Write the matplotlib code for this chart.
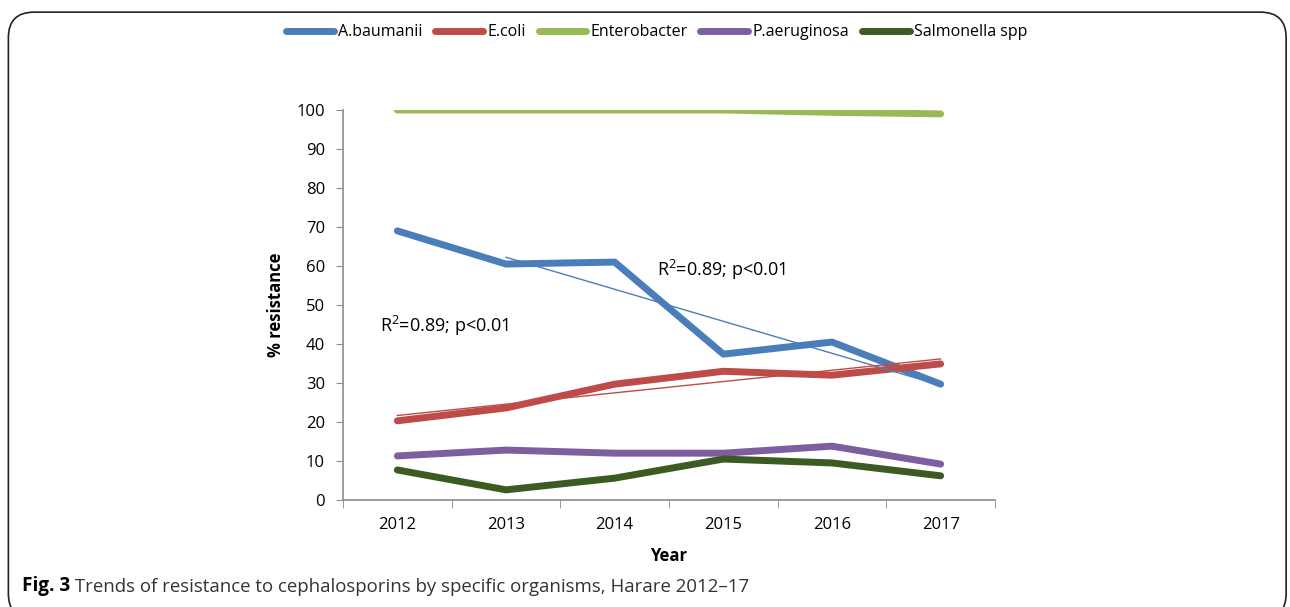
import matplotlib.pyplot as plt
import numpy as np
import matplotlib as mpl
from matplotlib.patches import FancyBboxPatch

years = ["2012", "2013", "2014", "2015", "2016", "2017"]

a_baumanii = [69.0, 60.5, 61.0, 37.4, 40.5, 29.7]
e_coli = [20.3, 23.6, 29.7, 33.0, 32.0, 34.9]
enterobacter = [100.0, 100.0, 100.0, 100.0, 99.4, 99.0]
p_aeruginosa = [11.3, 12.8, 12.0, 12.0, 13.8, 9.2]
salmonella = [7.7, 2.6, 5.6, 10.5, 9.5, 6.2]

series = [
    ("A.baumanii", a_baumanii, "#4A7EBB"),
    ("E.coli", e_coli, "#BE4B48"),
    ("Enterobacter", enterobacter, "#98B954"),
    ("P.aeruginosa", p_aeruginosa, "#7D5FA0"),
    ("Salmonella spp", salmonella, "#3B5B22"),
]

r2_text = "R$^2$=0.89; p<0.01"

mpl.rcParams.update({
    "font.family": ["Open Sans", "DejaVu Sans"],
    "mathtext.fontset": "custom",
    "mathtext.rm": "Open Sans",
})

fig = plt.figure(figsize=(12.9, 6.07), dpi=100)
ax = fig.add_axes([0.2659, 0.1763, 0.5054, 0.6425])

x = np.arange(len(years))
for name, vals, color in series:
    ax.plot(x, vals, color=color, linewidth=5.0, solid_capstyle="round",
            solid_joinstyle="round", label=name)

# linear trendlines
xb = x[1:]
fb = np.polyfit(xb, a_baumanii[1:], 1)
ax.plot(xb, np.polyval(fb, xb), color="#4A7EBB", linewidth=1.0)
fe = np.polyfit(x, e_coli, 1)
ax.plot(x, np.polyval(fe, x), color="#BE4B48", linewidth=1.0)

ax.text(-0.16, 44.6, r2_text, fontsize=13, va="center", ha="left")
ax.text(2.39, 59.0, r2_text, fontsize=13, va="center", ha="left")

ax.set_xlim(-0.5, 5.5)
ax.set_ylim(0, 100)
ax.set_yticks(np.arange(0, 101, 10))
ax.set_xticks(x)
ax.set_xticklabels(years)
ax.set_xticks(np.arange(-0.5, 5.6, 1), minor=True)
ax.tick_params(axis="x", which="major", length=0, pad=12, labelsize=12)
ax.tick_params(axis="x", which="minor", length=6, color="#8C8C8C", direction="out")
ax.tick_params(axis="y", length=5, color="#8C8C8C", labelsize=12, pad=8)

for side in ["top", "right"]:
    ax.spines[side].set_visible(False)
for side in ["left", "bottom"]:
    ax.spines[side].set_color("#8C8C8C")
    ax.spines[side].set_linewidth(1.2)

ax.set_ylabel("% resistance", fontsize=12, fontweight="bold", labelpad=8)
ax.set_xlabel("Year", fontsize=12, fontweight="bold", labelpad=10)

fig.legend(loc="center", bbox_to_anchor=(0.509, 0.947), ncol=5, frameon=False,
           fontsize=11.5, handlelength=3.0, handletextpad=0.25, columnspacing=0.8)

# rounded frame around the figure panel
box = FancyBboxPatch((0.0065, -0.02), 0.9905, 1.0, transform=fig.transFigure,
                     boxstyle="round,pad=0,rounding_size=0.02", facecolor="none",
                     edgecolor="#222222", linewidth=1.2, mutation_aspect=2.1)
fig.patches.append(box)

t1 = fig.text(0.017, 0.026, "Fig. 3", fontsize=13.6, fontweight="bold",
              va="baseline", ha="left")
ann = plt.annotate(" Trends of resistance to cephalosporins by specific organisms, Harare 2012\u201317",
                   xy=(1, 0), xycoords=t1, va="bottom", ha="left", fontsize=13.4,
                   color="#333333")

fig.savefig("out.png", dpi=100)
